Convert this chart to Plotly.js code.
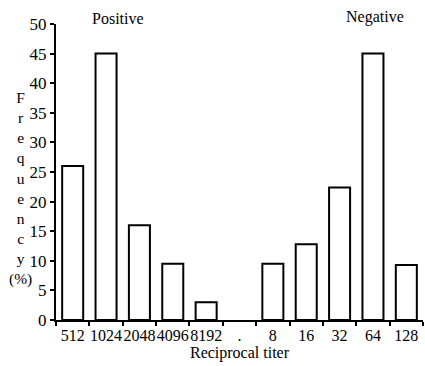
<!DOCTYPE html>
<html><head><meta charset="utf-8">
<script src="https://cdn.plot.ly/plotly-3.0.1.min.js"></script>
<style>html,body{margin:0;padding:0;background:#fff}#c{width:425px;height:366px}</style>
</head><body><div id="c"></div>
<script>
const categories = ["512","1024","2048","4096","8192","gap","8","16","32","64","128"];
const tickLabels = ["512","1024","2048","4096","8192",".","8","16","32","64","128"];
const frequency = [26, 45, 16, 9.5, 3, null, 9.5, 12.8, 22.4, 45, 9.3];
const groupLabels = ["Positive","Negative"];
const yLabelLetters = ["F","r","e","q","u","e","n","c","y","(%)"];
const xLabel = "Reciprocal titer";

const font = {family: "Liberation Serif", color: "#000"};
const f = s => Object.assign({size: s}, font);

const trace = {
  type: "bar", x: categories, y: frequency,
  marker: {color: "#fff", line: {color: "#000", width: 2}},
  width: 0.63, hoverinfo: "none"
};

const layout = {
  width: 425, height: 366,
  margin: {l: 56, r: 2, t: 24, b: 46},
  paper_bgcolor: "#fff", plot_bgcolor: "#fff",
  showlegend: false,
  font: f(15),
  xaxis: {
    type: "category", categoryarray: categories, tickvals: categories, ticktext: tickLabels,
    range: [-0.5, 10.5], showline: true, linecolor: "#000", linewidth: 2,
    ticks: "outside", tickson: "boundaries", ticklen: 4, tickcolor: "#000", tickwidth: 2,
    showgrid: false, zeroline: false, tickangle: 0,
    tickfont: f(16),
    title: {text: xLabel, font: f(16), standoff: 0}
  },
  yaxis: {
    range: [0, 50], dtick: 5, showline: true, linecolor: "#000", linewidth: 2,
    ticks: "outside", ticklen: 4, tickcolor: "#000", tickwidth: 2,
    showgrid: false, zeroline: false,
    tickfont: f(17)
  },
  annotations: [
    {text: groupLabels[0], xref: "x", yref: "paper", x: 1.35, y: 1.0, yanchor: "middle", yshift: 6, showarrow: false, font: f(16)},
    {text: groupLabels[1], xref: "x", yref: "paper", x: 9.05, y: 1.0, yanchor: "middle", yshift: 7, showarrow: false, font: f(16)},
    {text: yLabelLetters.join("<br>"), xref: "paper", yref: "paper", x: -0.098, y: 0.443, xanchor: "center", yanchor: "middle", showarrow: false, font: f(15.5)},
  ]
};

Plotly.newPlot("c", [trace], layout, {staticPlot: true, displayModeBar: false});
</script></body></html>
